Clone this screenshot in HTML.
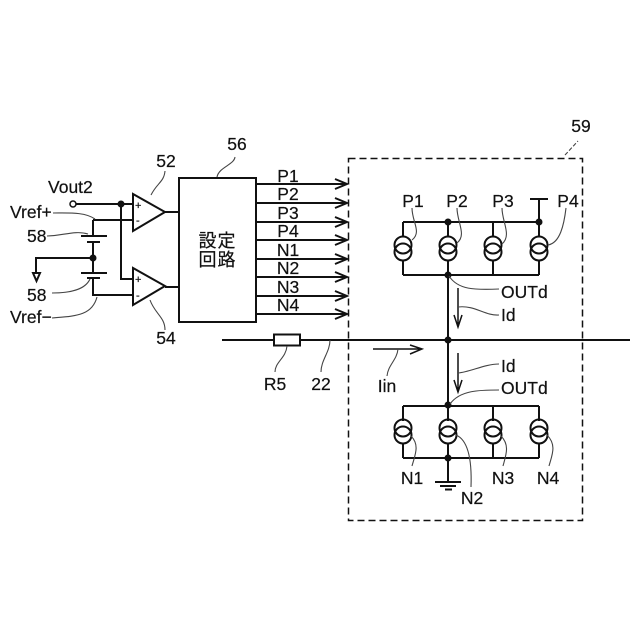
<!DOCTYPE html>
<html><head><meta charset="utf-8"><style>
html,body{margin:0;padding:0;background:#fff}
svg{display:block}
text{font-family:"Liberation Sans","Noto Sans CJK JP",sans-serif;font-size:17.5px;fill:#111;stroke:#111;stroke-width:.2}
.w{stroke:#111;stroke-width:2;fill:none}
.t{stroke:#444;stroke-width:1.1;fill:none}
.a{stroke:#111;stroke-width:1.5;fill:none}
.m{text-anchor:middle}
</style></head><body>
<svg width="640" height="640" viewBox="0 0 640 640" xmlns="http://www.w3.org/2000/svg">
<rect x="348.500" y="158.500" width="234" height="362" fill="none" stroke="#111" stroke-width="1.5" stroke-dasharray="7 4"/>

<!-- input side -->
<circle cx="73" cy="204" r="3" fill="#fff" stroke="#111" stroke-width="1.5"/>
<path class="w" d="M76 204H133M121 204V279H133M93 220H133M93 220V236M81 236H107M87 242H100M93 242V273M81 273H107M87 278H100M93 278V295H133M93 258H36V273"/>
<path class="w" d="M33 273H40L36.500 281Z"/>
<circle cx="121" cy="204" r="3.500" fill="#111"/>
<circle cx="93" cy="258" r="3.500" fill="#111"/>
<path class="w" d="M133 194V231L165 212ZM133 268V305L165 286ZM165 212H179M165 287H179" fill="#fff"/>
<text x="135" y="209" style="font-size:11px">+</text>
<text x="136" y="224" style="font-size:11px">-</text>
<text x="135" y="283" style="font-size:11px">+</text>
<text x="136" y="299" style="font-size:11px">-</text>

<!-- setting circuit -->
<rect x="179" y="178" width="77" height="144" class="w"/>
<text x="217.500" y="247" class="m" style="font-size:18px;letter-spacing:1px">設定</text>
<text x="217.500" y="266" class="m" style="font-size:18px;letter-spacing:1px">回路</text>

<path class="w" d="M256 184H347M335 179L347 184L335 189M256 203H347M335 198L347 203L335 208M256 222H347M335 217L347 222L335 227M256 240H347M335 235L347 240L335 245M256 259H347M335 254L347 259L335 264M256 277H347M335 272L347 277L335 282M256 296H347M335 291L347 296L335 301M256 314H347M335 309L347 314L335 319"/>
<text x="288" y="182" class="m">P1</text>
<text x="288" y="200" class="m">P2</text>
<text x="288" y="219" class="m">P3</text>
<text x="288" y="237" class="m">P4</text>
<text x="288" y="256" class="m">N1</text>
<text x="288" y="274" class="m">N2</text>
<text x="288" y="293" class="m">N3</text>
<text x="288" y="311" class="m">N4</text>

<!-- main line -->
<path class="w" d="M222 340H274M300 340H630"/>
<rect x="274" y="334.500" width="26" height="11" class="w"/>
<path class="a" d="M373 349H422M410 345L422 349L410 354"/>

<!-- P array -->
<path class="w" d="M403 222H539M403 275H539M530 199H548M539 199V222M448 222V237M403 222V237M493 222V237M539 222V237M403 260V275M448 260V275M493 260V275M539 260V275M448 275V405"/>
<g class="w">
<circle cx="403" cy="245" r="8.500"/><circle cx="403" cy="252" r="8.500"/>
<circle cx="448" cy="245" r="8.500"/><circle cx="448" cy="252" r="8.500"/>
<circle cx="493" cy="245" r="8.500"/><circle cx="493" cy="252" r="8.500"/>
<circle cx="539" cy="245" r="8.500"/><circle cx="539" cy="252" r="8.500"/>
</g>
<!-- N array -->
<path class="w" d="M403 406H539M403 458H539M403 406V421M448 406V421M493 406V421M539 406V421M403 443V458M448 443V458M493 443V458M539 443V458M448 458V482M435 482H461M440 486H456M445 489.500H452"/>
<g class="w">
<circle cx="403" cy="428" r="8.500"/><circle cx="403" cy="435" r="8.500"/>
<circle cx="448" cy="428" r="8.500"/><circle cx="448" cy="435" r="8.500"/>
<circle cx="493" cy="428" r="8.500"/><circle cx="493" cy="435" r="8.500"/>
<circle cx="539" cy="428" r="8.500"/><circle cx="539" cy="435" r="8.500"/>
</g>
<g fill="#111">
<circle cx="448" cy="222" r="3.500"/><circle cx="539" cy="222" r="3.500"/><circle cx="448" cy="275" r="3.500"/><circle cx="448" cy="340" r="3.500"/><circle cx="448" cy="405" r="3.500"/><circle cx="448" cy="458" r="3.500"/>
</g>
<!-- Id arrows -->
<path class="a" d="M458 288V326M454 315L458 327L462 315M458 353V391M454 380L458 392L462 380"/>

<!-- leaders -->
<g class="t">
<path d="M151 195C157 183 164 182 165 171"/>
<path d="M150 300C155 314 165 317 165 330"/>
<path d="M217 177C219 167 234 165 235 157"/>
<path d="M565 155L578 141" stroke-dasharray="4 2"/>
<path d="M53 213C70 213 85 212 95 219"/>
<path d="M47 236C62 236 75 230 88 234"/>
<path d="M52 293C70 293 85 290 90 279"/>
<path d="M52 318C75 316 92 316 97 297"/>
<path d="M287 346C286 358 275 362 275 372"/>
<path d="M330 340C330 352 321 360 321 372"/>
<path d="M398 349C397 360 388 365 387 376"/>
<path d="M412 208C412 222 422 232 412 240"/>
<path d="M457 208C457 222 467 235 457 243"/>
<path d="M502 208C502 222 512 235 502 244"/>
<path d="M566 208C564 225 560 243 548 245"/>
<path d="M449 276C458 290 475 290 499 289"/>
<path d="M458 307C475 305 485 316 499 315"/>
<path d="M458 373C470 372 485 364 499 364"/>
<path d="M450 404C460 390 480 390 499 390"/>
<path d="M411 436C420 445 415 455 412 466"/>
<path d="M456 435C468 440 472 460 471 487"/>
<path d="M501 436C510 445 506 455 503 466"/>
<path d="M547 435C557 445 552 455 549 466"/>
</g>

<!-- labels -->
<text x="166" y="167" class="m">52</text>
<text x="166" y="344" class="m">54</text>
<text x="237" y="150" class="m">56</text>
<text x="581" y="132" class="m">59</text>
<text x="48" y="193">Vout2</text>
<text x="10" y="218">Vref+</text>
<text x="27" y="242">58</text>
<text x="27" y="301">58</text>
<text x="10" y="323">Vref−</text>
<text x="275" y="390" class="m">R5</text>
<text x="321" y="390" class="m">22</text>
<text x="387" y="392" class="m">Iin</text>
<text x="413" y="207" class="m">P1</text>
<text x="457" y="207" class="m">P2</text>
<text x="503" y="207" class="m">P3</text>
<text x="568" y="207" class="m">P4</text>
<text x="501" y="298">OUTd</text>
<text x="501" y="321">Id</text>
<text x="501" y="372">Id</text>
<text x="501" y="394">OUTd</text>
<text x="412" y="484" class="m">N1</text>
<text x="472" y="504" class="m">N2</text>
<text x="503" y="484" class="m">N3</text>
<text x="548" y="484" class="m">N4</text>
</svg>
</body></html>
